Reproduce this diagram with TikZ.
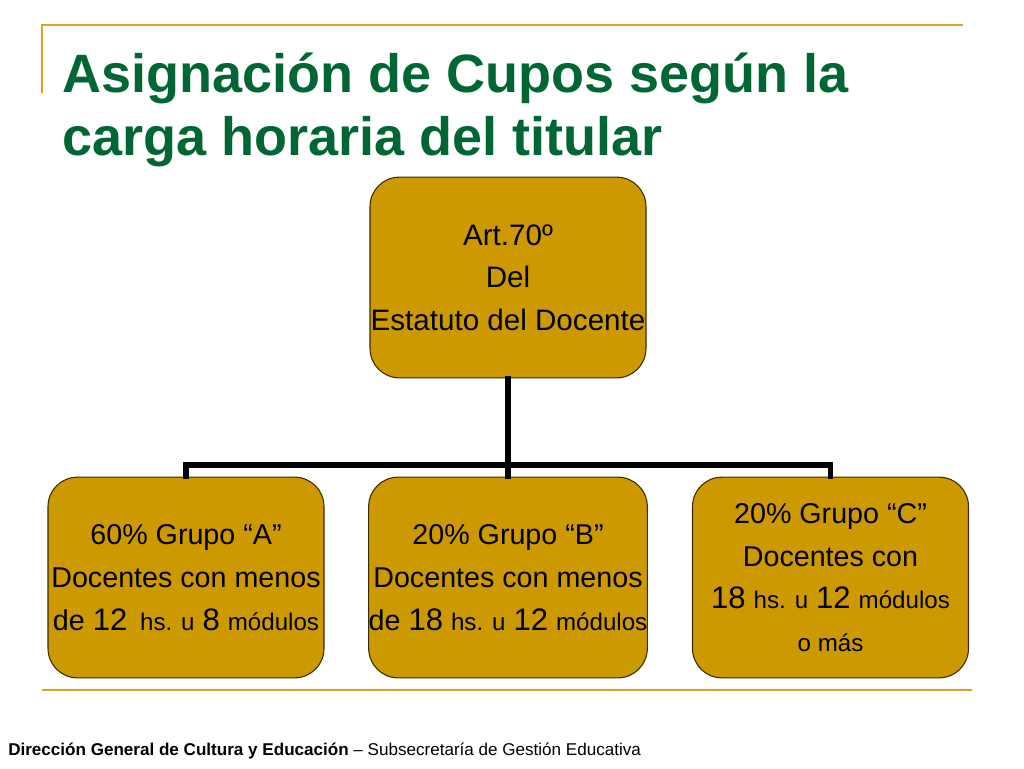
\documentclass[tikz,border=0pt]{standalone}
\usepackage{fontspec}
\setmainfont{Liberation Sans}
\definecolor{boxfill}{HTML}{CC9900}
\definecolor{boxline}{HTML}{3A2C00}
\definecolor{goldline}{HTML}{D4A52A}
\definecolor{titlegreen}{HTML}{006633}
\tikzset{
  box/.style={draw=boxline, line width=0.8pt, fill=boxfill, rounded corners=22pt,
    minimum width=207pt, minimum height=150.5pt, align=center, inner sep=0pt,
    font=\fontsize{22.2}{32}\selectfont},
  lowbox/.style={box, font=\fontsize{21.5}{32}\selectfont}
  ,conn/.style={draw=black, line width=4pt, line cap=rect},
  rule/.style={draw=goldline, line width=1.6pt}
}
\newcommand{\bignum}[1]{{\fontsize{23.3}{32}\selectfont #1}}
\newcommand{\smalltxt}[1]{{\fontsize{18.1}{32}\selectfont #1}}
\begin{document}
\begin{tikzpicture}[x=0.75pt,y=-0.75pt]
\useasboundingbox (0,0) rectangle (1024,768);
% decorative rules
\draw[rule] (42,93) -- (42,25) -- (963,25);
\draw[rule] (42,690) -- (972,690);
% title
\node[anchor=base west, inner sep=0pt, text=titlegreen, font=\fontsize{40.5}{47}\selectfont\bfseries] (t1) at (62,92) {Asignación de Cupos según la};
\node[anchor=base west, inner sep=0pt, text=titlegreen, font=\fontsize{40.5}{47}\selectfont\bfseries] (t2) at (62,155) {carga horaria del titular};
% boxes
\node[box] (top) at (508,277.5) {Art.70º\\Del\\Estatuto del Docente};
\node[lowbox] (A) at (186,577.5) {60\% Grupo “A”\\Docentes con menos\\de \bignum{12}\, \smalltxt{hs. u} \bignum{8} \smalltxt{módulos}};
\node[lowbox] (B) at (508,577.5) {20\% Grupo “B”\\Docentes con menos\\de \bignum{18} \smalltxt{hs. u} \bignum{12} \smalltxt{módulos}};
\node[lowbox] (C) at (830.5,577.5) {20\% Grupo “C”\\Docentes con\\\bignum{18} \smalltxt{hs. u} \bignum{12} \smalltxt{módulos}\\\smalltxt{o más}};
% connectors
\coordinate (bar) at (508,465);
\draw[conn] (top.south) -- (bar);
\draw[conn] (A.north) |- (bar) -| (C.north);
\draw[conn] (bar) -- (B.north);
% footer
\node[anchor=base west, inner sep=0pt, font=\fontsize{12.8}{15}\selectfont] (foot) at (8,755) {\textbf{Dirección General de Cultura y Educación} – Subsecretaría de Gestión Educativa};
\end{tikzpicture}
\end{document}
